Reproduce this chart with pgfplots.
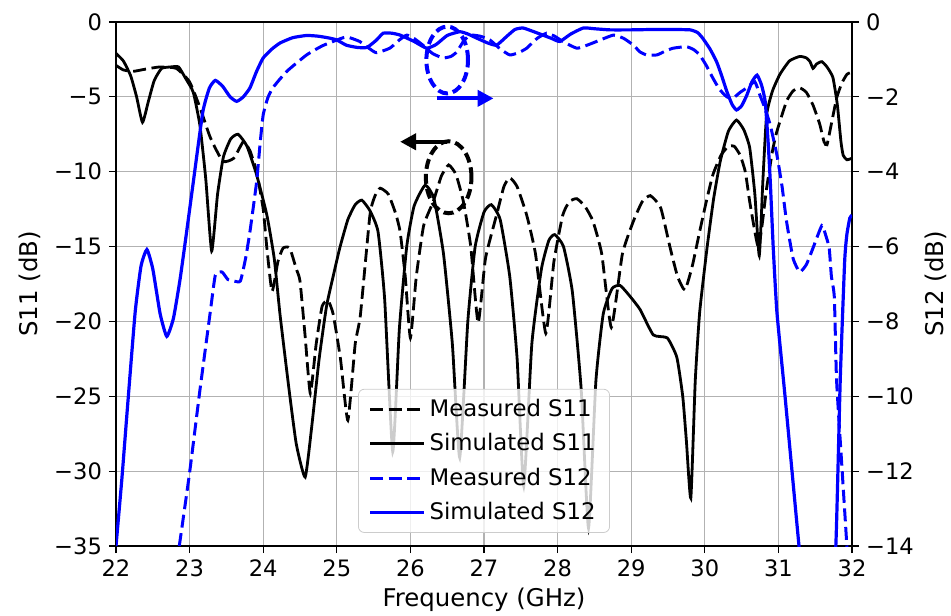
\documentclass[border=0pt]{standalone}
\usepackage{fontspec}
\setmainfont{DejaVu Sans}
\usepackage{pgfplots}
\pgfplotsset{compat=1.18}
\usetikzlibrary{arrows.meta}
\definecolor{gridgray}{gray}{0.7}
\begin{document}
\begin{tikzpicture}
\useasboundingbox (-58pt,-34.5pt) rectangle (417.5pt,273pt);
\pgfplotsset{
  common/.style={
    at={(0pt,0pt)}, anchor=south west,
    scale only axis, width=368pt, height=262pt,
    xmin=22, xmax=32,
    tick align=outside, major tick length=3.5pt,
    every tick/.style={black, line width=0.6pt},
    tick label style={font=\fontsize{11.3}{13}\selectfont},
    label style={font=\fontsize{12.2}{14}\selectfont},
    axis line style={line width=0.6pt},
  },
  mdash/.style={dash pattern=on 6.5pt off 2.8pt},
}
\begin{axis}[common,
  ymin=-35, ymax=0,
  xtick={22,23,...,32},
  xticklabels={22,23,24,25,26,27,28,29,30,31,32},
  ytick={-35,-30,...,0},
  yticklabels={−35,−30,−25,−20,−15,−10,−5,0},
  xtick pos=bottom, ytick pos=left,
  grid=major, grid style={gridgray, line width=0.6pt},
  xlabel={Frequency (GHz)},
  ylabel={S11 (dB)},
  xlabel style={at={(axis description cs:0.5,-0.1164)}, anchor=base},
  ylabel style={at={(axis description cs:-0.1168,0.5)}, anchor=center},
]
% Measured S11
\addplot[black, line width=1.4pt, mdash, smooth, tension=0.3] coordinates {
(22.00,-2.9) (22.10,-3.2) (22.23,-3.3) (22.40,-3.15) (22.60,-3.0) (22.82,-3.1) (23.00,-4.0) (23.14,-5.7) (23.28,-7.7) (23.45,-9.3) (23.60,-9.1) (23.73,-8.0) (23.82,-8.6) (23.91,-10.0) (24.00,-12.5) (24.05,-15.1) (24.12,-18.0) (24.20,-16.0) (24.27,-15.1) (24.36,-15.1) (24.45,-16.5) (24.50,-17.3) (24.57,-21.0) (24.64,-24.8) (24.72,-21.5) (24.80,-19.0) (24.88,-18.6) (24.95,-19.5) (25.05,-22.5) (25.15,-26.6) (25.25,-21.5) (25.32,-19.6) (25.45,-12.9) (25.52,-11.6) (25.59,-11.1) (25.70,-11.5) (25.80,-12.8) (25.86,-14.0) (25.93,-17.0) (26.00,-21.1) (26.08,-17.0) (26.18,-13.6) (26.31,-12.0) (26.42,-10.3) (26.52,-9.55) (26.62,-10.2) (26.72,-12.0) (26.82,-15.0) (26.92,-20.1) (27.02,-15.8) (27.17,-12.9) (27.27,-11.0) (27.35,-10.4) (27.45,-11.0) (27.58,-12.9) (27.70,-15.5) (27.84,-20.8) (27.95,-16.0) (28.07,-12.9) (28.16,-12.0) (28.26,-11.8) (28.37,-12.3) (28.48,-13.3) (28.60,-15.5) (28.73,-20.4) (28.88,-15.5) (29.03,-13.3) (29.15,-12.0) (29.26,-11.6) (29.40,-12.4) (29.53,-15.1) (29.63,-17.0) (29.73,-17.9) (29.83,-16.3) (29.93,-14.0) (30.02,-12.0) (30.11,-10.2) (30.22,-8.9) (30.32,-8.3) (30.40,-8.3) (30.48,-8.9) (30.55,-10.0) (30.61,-12.0) (30.68,-14.0) (30.73,-15.1) (30.78,-13.5) (30.84,-11.1) (30.92,-8.6) (30.98,-7.3) (31.11,-5.3) (31.20,-4.6) (31.29,-4.4) (31.38,-4.7) (31.47,-5.55) (31.56,-6.8) (31.62,-8.0) (31.66,-8.2) (31.72,-6.8) (31.79,-5.1) (31.86,-4.1) (31.93,-3.5) (31.97,-3.4)
};
% Simulated S11
\addplot[black, line width=1.4pt, smooth, tension=0.3] coordinates {
(22.00,-2.1) (22.10,-2.6) (22.20,-3.6) (22.28,-5.0) (22.36,-6.7) (22.44,-5.3) (22.52,-3.9) (22.62,-3.1) (22.75,-3.0) (22.85,-3.0) (22.95,-3.8) (23.05,-4.7) (23.14,-6.9) (23.22,-10.5) (23.30,-15.3) (23.38,-11.5) (23.46,-9.0) (23.56,-7.8) (23.66,-7.5) (23.78,-8.3) (23.91,-10.2) (24.05,-12.9) (24.15,-15.8) (24.23,-19.6) (24.35,-24.5) (24.45,-28.2) (24.57,-30.4) (24.66,-27.0) (24.76,-22.5) (24.86,-19.0) (24.95,-17.0) (25.04,-15.1) (25.15,-13.2) (25.25,-12.2) (25.34,-11.9) (25.45,-12.6) (25.56,-14.0) (25.65,-18.5) (25.76,-28.7) (25.85,-20.5) (25.95,-15.0) (26.05,-12.3) (26.20,-10.9) (26.32,-11.8) (26.45,-15.5) (26.57,-21.5) (26.67,-29.1) (26.78,-20.0) (26.88,-15.0) (27.00,-12.7) (27.10,-12.2) (27.22,-13.2) (27.35,-17.0) (27.45,-22.5) (27.54,-31.0) (27.65,-21.5) (27.78,-16.5) (27.88,-14.6) (27.96,-14.2) (28.08,-15.0) (28.20,-18.0) (28.32,-24.5) (28.42,-33.8) (28.52,-24.0) (28.62,-19.5) (28.74,-17.8) (28.85,-17.6) (28.98,-18.3) (29.12,-19.2) (29.30,-20.9) (29.49,-21.1) (29.62,-22.4) (29.70,-25.0) (29.75,-28.0) (29.81,-31.8) (29.87,-24.0) (29.93,-19.4) (30.03,-15.1) (30.12,-11.8) (30.21,-9.3) (30.32,-7.3) (30.43,-6.55) (30.53,-7.2) (30.61,-8.4) (30.68,-11.5) (30.74,-15.6) (30.79,-10.5) (30.84,-6.2) (30.92,-4.6) (31.02,-3.5) (31.15,-2.6) (31.29,-2.3) (31.38,-2.4) (31.43,-2.65) (31.47,-3.1) (31.52,-2.8) (31.59,-2.65) (31.66,-3.0) (31.74,-3.7) (31.80,-5.5) (31.85,-8.0) (31.88,-8.9) (31.93,-9.2) (32.00,-9.1)
};
% annotations
\draw[blue, line width=2pt, dash pattern=on 5pt off 2.5pt] (axis cs:26.50,-2.54) ellipse [x radius=10.4pt, y radius=16.7pt];
\draw[blue, line width=2pt, -{Triangle[length=8pt,width=8pt]}] (axis cs:26.36,-5.1) -- (axis cs:27.13,-5.1);
\draw[black, line width=2pt, dash pattern=on 5pt off 2.5pt] (axis cs:26.52,-10.37) ellipse [x radius=11.4pt, y radius=18pt];
\draw[black, line width=2pt, -{Triangle[length=8pt,width=8pt]}] (axis cs:26.50,-8.0) -- (axis cs:25.86,-8.0);
\end{axis}
\begin{axis}[common,
  ymin=-14, ymax=0,
  axis x line=none, axis y line*=right,
  ytick={-14,-12,...,0},
  yticklabels={−14,−12,−10,−8,−6,−4,−2,0},
  ylabel={S12 (dB)},
  ylabel style={at={(axis description cs:1.114,0.5)}, anchor=center},
  legend style={at={(axis description cs:0.5,0.025)}, anchor=south,
    draw=gray!40, rounded corners=3pt, fill=white, fill opacity=0.8, text opacity=1,
    font=\fontsize{11.4}{13}\selectfont, inner xsep=5pt, inner ysep=3pt,
    row sep=3pt},
  legend cell align=left,
  legend image code/.code={\draw[#1] (0pt,0pt) -- (27pt,0pt);},
]
\addlegendimage{black, line width=1.4pt, mdash}
\addlegendentry{Measured S11}
\addlegendimage{black, line width=1.4pt}
\addlegendentry{Simulated S11}
% Measured S12
\addplot[blue, line width=1.5pt, mdash, smooth, tension=0.3] coordinates {
(22.86,-14) (23.00,-12.04) (23.14,-9.84) (23.28,-7.76) (23.35,-6.76) (23.44,-6.68) (23.52,-6.88) (23.60,-6.92) (23.69,-6.92) (23.76,-6.32) (23.82,-5.6) (23.91,-4.28) (23.96,-3.2) (24.00,-2.48) (24.06,-2.04) (24.13,-1.76) (24.32,-1.32) (24.59,-0.88) (24.80,-0.64) (24.95,-0.52) (25.13,-0.4) (25.31,-0.52) (25.45,-0.72) (25.54,-0.82) (25.72,-0.7) (25.85,-0.48) (25.95,-0.35) (26.05,-0.44) (26.17,-0.62) (26.30,-0.84) (26.44,-0.96) (26.55,-0.92) (26.63,-0.8) (26.72,-0.52) (26.81,-0.35) (26.95,-0.38) (27.08,-0.48) (27.22,-0.72) (27.35,-0.88) (27.47,-0.82) (27.58,-0.7) (27.72,-0.44) (27.85,-0.3) (27.96,-0.38) (28.07,-0.52) (28.26,-0.7) (28.40,-0.62) (28.53,-0.52) (28.76,-0.35) (28.90,-0.44) (29.03,-0.62) (29.12,-0.8) (29.21,-0.88) (29.35,-0.88) (29.46,-0.78) (29.57,-0.7) (29.75,-0.66) (29.85,-0.74) (29.93,-0.88) (30.02,-1.16) (30.11,-1.5) (30.20,-1.8) (30.30,-2.0) (30.38,-2.04) (30.48,-1.88) (30.57,-1.76) (30.68,-1.6) (30.75,-1.96) (30.82,-2.32) (30.89,-2.76) (30.98,-3.56) (31.05,-4.4) (31.11,-5.32) (31.20,-6.32) (31.29,-6.68) (31.38,-6.48) (31.47,-6.04) (31.59,-5.44) (31.64,-5.68) (31.69,-6.04) (31.72,-6.8) (31.76,-7.36) (31.79,-9.56) (31.86,-11.8) (31.93,-14) (31.96,-15.2)
};
\addlegendentry{Measured S12}
% Simulated S12
\addplot[blue, line width=1.6pt, smooth, tension=0.3] coordinates {
(22.00,-14.0) (22.08,-12.2) (22.15,-10.44) (22.26,-7.76) (22.34,-6.52) (22.42,-6.08) (22.50,-6.6) (22.60,-7.8) (22.69,-8.4) (22.78,-7.92) (22.87,-6.88) (22.96,-5.6) (23.05,-4.28) (23.18,-2.4) (23.27,-1.76) (23.35,-1.56) (23.45,-1.72) (23.55,-2.0) (23.64,-2.12) (23.73,-2.0) (23.82,-1.76) (23.91,-1.32) (24.00,-0.96) (24.12,-0.72) (24.23,-0.56) (24.40,-0.42) (24.59,-0.36) (24.75,-0.38) (24.90,-0.43) (25.00,-0.48) (25.13,-0.62) (25.28,-0.68) (25.41,-0.68) (25.54,-0.48) (25.63,-0.30) (25.75,-0.30) (25.86,-0.35) (26.05,-0.52) (26.22,-0.70) (26.35,-0.60) (26.50,-0.36) (26.67,-0.26) (26.78,-0.32) (26.90,-0.43) (27.05,-0.56) (27.17,-0.62) (27.30,-0.40) (27.42,-0.20) (27.53,-0.16) (27.65,-0.24) (27.80,-0.35) (27.92,-0.44) (28.03,-0.52) (28.18,-0.32) (28.35,-0.16) (28.50,-0.18) (28.71,-0.21) (29.00,-0.21) (29.30,-0.2) (29.55,-0.2) (29.80,-0.21) (29.90,-0.28) (29.97,-0.43) (30.07,-0.72) (30.16,-1.06) (30.23,-1.44) (30.30,-1.86) (30.37,-2.2) (30.43,-2.35) (30.50,-2.24) (30.57,-1.96) (30.64,-1.6) (30.71,-1.42) (30.77,-1.68) (30.82,-2.12) (30.86,-3.2) (30.89,-4.28) (30.93,-6.04) (30.98,-7.76) (31.09,-10.0) (31.28,-14.0) (31.35,-15.2) (31.55,-16) (31.70,-15.2) (31.78,-14) (31.84,-9.56) (31.90,-6.4) (31.93,-5.68) (31.97,-5.24) (32.00,-5.16)
};
\addlegendentry{Simulated S12}
\end{axis}
\end{tikzpicture}
\end{document}
